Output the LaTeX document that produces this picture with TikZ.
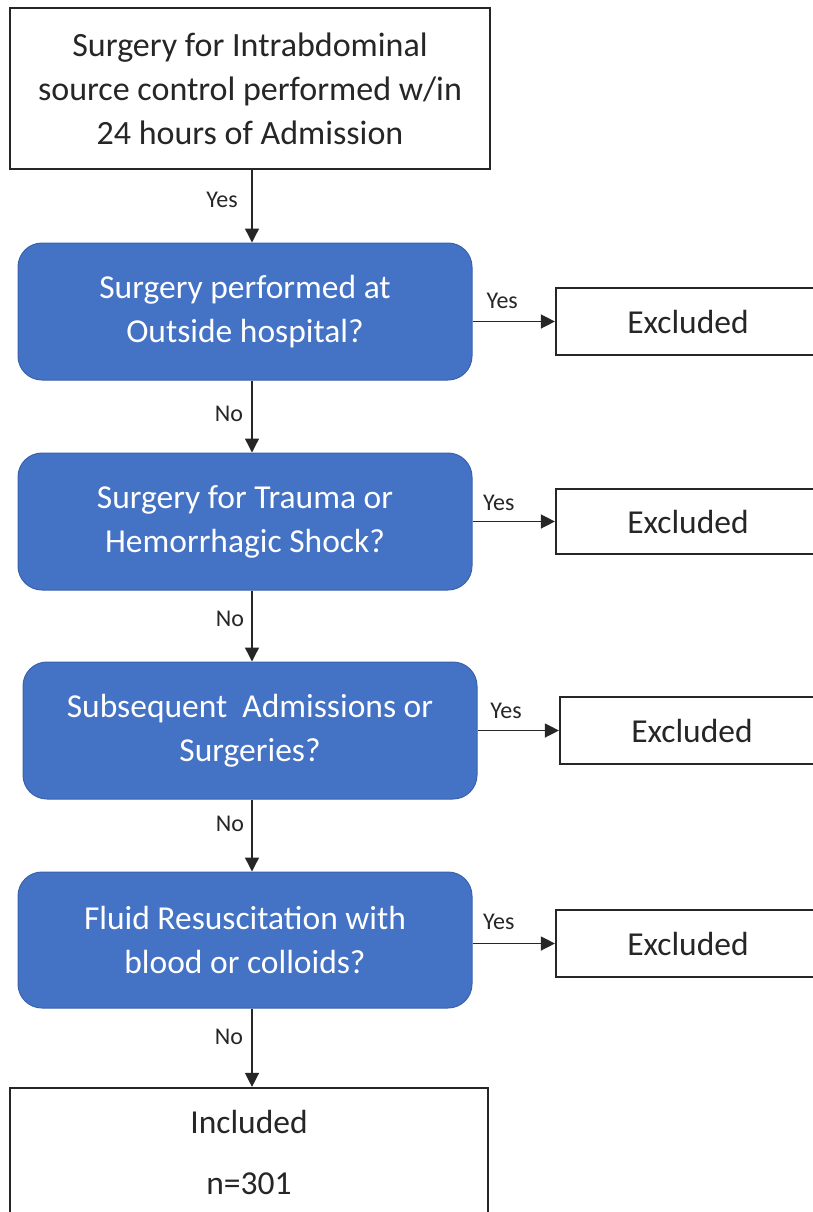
\documentclass[tikz,border=0pt]{standalone}
\usepackage{fontspec}
\setmainfont{Carlito}
\usetikzlibrary{arrows.meta}
\definecolor{boxblue}{HTML}{4472C4}
\definecolor{boxedge}{HTML}{3A62AE}
\definecolor{ink}{HTML}{262626}
\begin{document}
\begin{tikzpicture}[x=1pt,y=-1pt,
  plainbox/.style={draw=ink,line width=2.2pt,fill=white,align=center,text=ink,inner sep=0pt},
  bluebox/.style={draw=boxedge,line width=1pt,fill=boxblue,rounded corners=24pt,align=center,text=white,
    minimum width=454pt,minimum height=137pt,inner sep=0pt,font=\fontsize{33.5}{44}\selectfont},
  exbox/.style={plainbox,minimum width=264pt,font=\fontsize{33.5}{38}\selectfont},
  arr/.style={draw=ink,line width=1.4pt,-{Triangle[length=14pt,width=14pt]}},
  lab/.style={text=ink,font=\fontsize{24}{26}\selectfont,inner sep=0pt}]
\useasboundingbox (0,0) rectangle (813,1212);
\clip (0,0) rectangle (813,1212);
\node[plainbox,minimum width=480pt,minimum height=161pt,font=\fontsize{34}{44}\selectfont] (top) at (250,88.5)
  {Surgery for Intrabdominal\\source control performed w/in\\24 hours of Admission};
\node[bluebox] (b1) at (245,311.5) {Surgery performed at\\Outside hospital?};
\node[bluebox] (b2) at (245,521.5) {Surgery for Trauma or\\Hemorrhagic Shock?};
\node[bluebox] (b3) at (250,730.5) {Subsequent\ \ Admissions or\\Surgeries?};
\node[bluebox,minimum height=136pt] (b4) at (245,940) {Fluid Resuscitation with\\blood or colloids?};
\node[plainbox,minimum width=478pt,minimum height=129pt,font=\fontsize{33.5}{61}\selectfont] (incl) at (249,1152.5)
  {Included\\n=301};
\node[exbox,minimum height=67pt] (e1) at (688,321.5) {Excluded};
\node[exbox,minimum height=65pt] (e2) at (688,521.5) {Excluded};
\node[exbox,minimum height=67pt] (e3) at (692,730.5) {Excluded};
\node[exbox,minimum height=67pt] (e4) at (688,943.5) {Excluded};
% vertical arrows
\coordinate (tr) at (252,0);
\draw[arr] (top.south -| tr) -- (b1.north -| tr) node[lab,midway,xshift=-30pt,yshift=6pt] {Yes};
\draw[arr] (b1.south -| tr) -- (b2.north -| tr) node[lab,midway,xshift=-23pt,yshift=3pt] {No};
\draw[arr] (b2.south -| tr) -- (b3.north -| tr) node[lab,midway,xshift=-22pt,yshift=7pt] {No};
\draw[arr] (b3.south -| tr) -- (b4.north -| tr) node[lab,midway,xshift=-22pt,yshift=12pt] {No};
\draw[arr] (b4.south -| tr) -- (incl.north -| tr) node[lab,midway,xshift=-23pt,yshift=11pt] {No};
% horizontal arrows
\draw[arr] (b1.east |- e1.west) -- (e1.west) node[lab,pos=0.36,yshift=21pt] {Yes};
\draw[arr] (b2.east |- e2.west) -- (e2.west) node[lab,pos=0.32,yshift=19pt] {Yes};
\draw[arr] (b3.east |- e3.west) -- (e3.west) node[lab,pos=0.35,yshift=20pt] {Yes};
\draw[arr] (b4.east |- e4.west) -- (e4.west) node[lab,pos=0.32,yshift=22pt] {Yes};
\end{tikzpicture}
\end{document}
